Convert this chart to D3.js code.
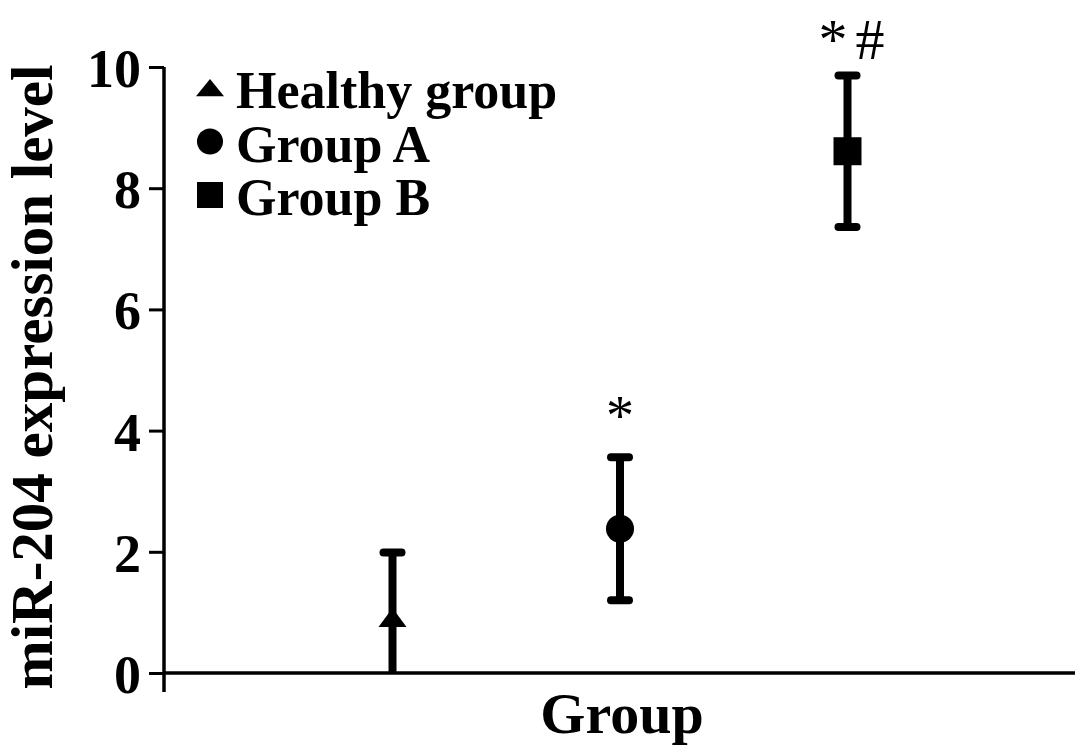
<!DOCTYPE html>
<html>
<head>
<meta charset="utf-8">
<script src="https://cdn.jsdelivr.net/npm/d3@7/dist/d3.min.js"></script>
<style>
  html, body { margin: 0; padding: 0; background: #fff; }
  svg { display: block; }
  svg text { font-family: "Liberation Serif", "Times New Roman", serif; font-weight: bold; }
</style>
</head>
<body>
<svg id="chart" width="1087" height="756"></svg>
<script>

// DATA
// ----------------------------------------------------------------------------

const groups = ['Healthy group', 'Group A', 'Group B'];
const means = [0.89, 2.38, 8.61];
const errors = [1.1, 1.18, 1.25];
const shapes = ['triangle', 'circle', 'square'];
const marks = ['', '*', '*#'];
const yTicks = [0, 2, 4, 6, 8, 10];


// SETUP
// ----------------------------------------------------------------------------

const svg = d3.select('#chart');
const ink = '#000';
const serif = '"Liberation Serif", "Times New Roman", serif';

const x = d3.scalePoint().domain(groups).range([165, 1075]).padding(1);
const y = d3.scaleLinear().domain([0, 10]).range([673, 67]);

const rows = groups.map((g, i) => ({
  group: g, mean: means[i], err: errors[i], shape: shapes[i], mark: marks[i]
}));

/**
 * Path for a marker centred on 0,0.
 */
function markerPath(shape) {
  if (shape == 'triangle') return 'M0,-11L14,8L-14,8Z';
  if (shape == 'square') return 'M-14,-14H14V14H-14Z';
  return d3.arc()({ innerRadius: 0, outerRadius: 14,
    startAngle: 0, endAngle: 2 * Math.PI });
}


// AXES
// ----------------------------------------------------------------------------

const yAxis = d3.axisLeft(y)
  .tickValues(yTicks)
  .tickSize(15)
  .tickPadding(8)
  .tickFormat(d3.format('d'));

const gy = svg.append('g').attr('transform', 'translate(164,0)').call(yAxis);
gy.attr('font-family', null).attr('font-size', null);
gy.select('.domain').remove();
gy.selectAll('line').attr('stroke', ink).attr('stroke-width', 3);
gy.selectAll('text')
  .attr('fill', ink)
  .style('font-family', serif)
  .style('font-size', '54px')
  .attr('dy', '0.36em');

// Vertical axis line runs a bit below the baseline.
svg.append('line')
  .attr('x1', 164).attr('x2', 164)
  .attr('y1', y(10)).attr('y2', y(0) + 19)
  .attr('stroke', ink).attr('stroke-width', 3.5);

// Horizontal axis, no ticks.
svg.append('line')
  .attr('x1', 164).attr('x2', 1075)
  .attr('y1', y(0)).attr('y2', y(0))
  .attr('stroke', ink).attr('stroke-width', 3.5);

svg.append('text')
  .attr('x', 622).attr('y', 733)
  .attr('text-anchor', 'middle')
  .style('font-size', '58px')
  .attr('fill', ink)
  .text('Group');

svg.append('text')
  .attr('transform', 'translate(52,377) rotate(-90)')
  .attr('text-anchor', 'middle')
  .style('font-size', '59px')
  .attr('fill', ink)
  .text('miR-204 expression level');


// POINTS
// ----------------------------------------------------------------------------

const pts = svg.append('g').selectAll('g').data(rows).join('g')
  .attr('transform', d => `translate(${x(d.group)},0)`);

// Error bar stems, clipped at zero.
pts.append('line')
  .attr('y1', d => y(d.mean + d.err))
  .attr('y2', d => y(Math.max(0, d.mean - d.err)))
  .attr('stroke', ink).attr('stroke-width', 8);

// Caps (only where the bar stays above zero).
pts.append('line')
  .attr('x1', -9).attr('x2', 9)
  .attr('y1', d => y(d.mean + d.err)).attr('y2', d => y(d.mean + d.err))
  .attr('stroke', ink).attr('stroke-width', 8).attr('stroke-linecap', 'round');

pts.filter(d => d.mean - d.err > 0).append('line')
  .attr('x1', -9).attr('x2', 9)
  .attr('y1', d => y(d.mean - d.err)).attr('y2', d => y(d.mean - d.err))
  .attr('stroke', ink).attr('stroke-width', 8).attr('stroke-linecap', 'round');

pts.append('path')
  .attr('transform', d => `translate(0,${y(d.mean)})`)
  .attr('d', d => markerPath(d.shape))
  .attr('fill', ink);

// Significance marks above the bars.
pts.append('text')
  .attr('y', d => y(d.mean + d.err) - (d.mark.length > 1 ? 16 : 22))
  .attr('x', d => d.mark.length > 1 ? 8 : 0)
  .attr('text-anchor', 'middle')
  .style('font-size', d => d.mark.length > 1 ? '58px' : '56px')
  .style('font-weight', 'normal')
  .attr('letter-spacing', d => d.mark.length > 1 ? 8 : 0)
  .attr('fill', ink)
  .text(d => d.mark);


// LEGEND
// ----------------------------------------------------------------------------

const legend = svg.append('g').selectAll('g').data(rows).join('g')
  .attr('transform', (d, i) => `translate(210,${108 + i * 53.5})`);

legend.append('path')
  .attr('transform', d => d.shape == 'triangle' ?
    'translate(0,-19) scale(1,0.9)' : 'translate(0,-20) scale(0.93)')
  .attr('d', d => markerPath(d.shape))
  .attr('fill', ink);

legend.append('text')
  .attr('x', 26)
  .style('font-size', '52px')
  .attr('fill', ink)
  .text(d => d.group);

</script>
</body>
</html>
